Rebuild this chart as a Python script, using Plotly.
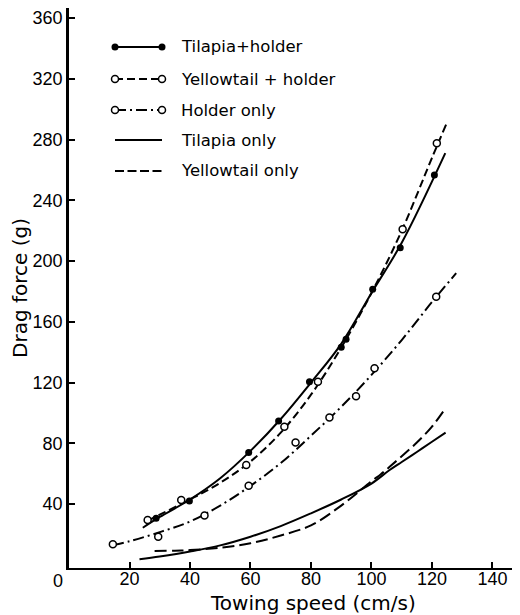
import plotly.graph_objects as go

# page has an 8px body margin: figure is drawn 8px in from the top-left
OFF = 8
W, H = 520 - OFF, 615 - OFF
ML, MR, MT, MB = 69 - OFF, 0, 8 - OFF, 47

# ---- measured data points ----
th_speed = [28.8, 39.8, 59.4, 69.3, 79.5, 90.0, 91.6, 100.4, 109.5, 120.8]
th_force = [30.6, 42.0, 74.0, 94.7, 120.5, 143.2, 148.5, 181.4, 208.8, 256.6]
yh_speed = [26.0, 37.1, 58.6, 71.2, 82.3, 110.3, 121.6]
yh_force = [29.5, 42.7, 65.7, 90.9, 120.5, 221.0, 277.5]
ho_speed = [14.5, 29.5, 44.8, 59.4, 74.9, 86.1, 94.9, 101.0, 121.4]
ho_force = [13.5, 18.5, 32.5, 52.0, 80.6, 97.0, 111.0, 129.4, 176.5]

# ---- fitted curves ----
th_fit_x = [24.4, 30, 40, 50, 60, 70, 80, 90, 100, 110, 124.4]
th_fit_y = [24.4, 31.5, 43, 57, 75, 96, 120, 145.5, 179, 212, 271]
yh_fit_x = [26, 30, 40, 50, 60, 70, 80, 90, 100, 110, 120, 124.7]
yh_fit_y = [29, 33, 43, 54, 68, 87, 112, 143, 179, 220, 268, 290]
ho_fit_x = [14.5, 20, 30, 40, 50, 60, 70, 80, 90, 100, 110, 120, 128]
ho_fit_y = [13, 15.5, 21.5, 28.5, 39, 52, 67, 85, 104, 125, 148, 173, 192]
to_fit_x = [23.3, 30, 40, 50, 60, 70, 80, 90, 100, 106, 110, 115, 120, 124.5]
to_fit_y = [3.6, 5.5, 8.8, 12.8, 18.5, 25.5, 33.9, 43, 53.5, 62.4, 67.7, 74.3, 81, 87]
yo_fit_x = [28.3, 35, 40, 50, 60, 70, 80, 90, 100, 103, 106, 110, 115, 120, 124.1]
yo_fit_y = [9.1, 9.3, 9.7, 11.3, 14.2, 19.3, 26, 39, 55, 59.5, 64.5, 71.5, 80.5, 91, 102]

x_ticks = [20, 40, 60, 80, 100, 120, 140]
y_ticks = [40, 80, 120, 160, 200, 240, 280, 320, 360]
x_range = [0, 149.1]
y_range = [-2.1, 366.6]

labels = ["Tilapia+holder", "Yellowtail + holder", "Holder only",
          "Tilapia only", "Yellowtail only"]

BLACK = "#000000"
DASH_YH = "8px,4px"
DASH_YO = "12px,5px"
DASH_HO = "11px,4px,2px,4px"
LW = 2

fig = go.Figure()

def curve(x, y, dash, name):
    fig.add_trace(go.Scatter(x=x, y=y, mode="lines", name=name, showlegend=False,
                             line=dict(color=BLACK, width=LW, dash=dash,
                                       shape="spline", smoothing=1.0)))

curve(th_fit_x, th_fit_y, "solid", labels[0])
curve(yh_fit_x, yh_fit_y, DASH_YH, labels[1])
curve(ho_fit_x, ho_fit_y, DASH_HO, labels[2])
curve(to_fit_x, to_fit_y, "solid", labels[3])
curve(yo_fit_x, yo_fit_y, DASH_YO, labels[4])

open_marker = dict(symbol="circle", size=7, color="white", line=dict(color=BLACK, width=1.5))
fill_marker = dict(symbol="circle", size=7, color=BLACK, line=dict(color=BLACK, width=0))

fig.add_trace(go.Scatter(x=ho_speed, y=ho_force, mode="markers", marker=open_marker,
                         showlegend=False, name=labels[2]))
fig.add_trace(go.Scatter(x=yh_speed, y=yh_force, mode="markers", marker=open_marker,
                         showlegend=False, name=labels[1]))
fig.add_trace(go.Scatter(x=th_speed, y=th_force, mode="markers", marker=fill_marker,
                         showlegend=False, name=labels[0]))

# ---- hand-drawn style legend (overlay axes in paper-like units) ----
pw = W - ML - MR
ph = H - MT - MB
def px_x(p):  # page pixel -> paper
    return (p - OFF - ML) / pw
def px_y(p):
    return (H - MB - (p - OFF)) / ph

leg_rows_px = [47, 79, 110, 140, 171]
leg_x0, leg_x1, leg_tx = 115, 162, 179
leg_style = [("solid", "fill"), (DASH_YH, "open"), (DASH_HO, "open"),
             ("solid", None), ("9px,3.5px", None)]
annotations = []
for lab, ypx, (dash, mk) in zip(labels, leg_rows_px, leg_style):
    yy = px_y(ypx)
    fig.add_trace(go.Scatter(x=[px_x(leg_x0), px_x(leg_x1)], y=[yy, yy],
                             xaxis="x2", yaxis="y2",
                             mode="lines+markers" if mk else "lines",
                             line=dict(color=BLACK, width=LW, dash=dash),
                             marker=(fill_marker if mk == "fill" else open_marker) if mk else None,
                             showlegend=False, hoverinfo="skip"))
    annotations.append(dict(x=px_x(leg_tx), y=yy, xref="paper", yref="paper",
                            text=lab, showarrow=False, xanchor="left", yanchor="middle",
                            font=dict(family="DejaVu Sans", size=16.5, color=BLACK)))

annotations.append(dict(x=80.5, y=px_y(603), xref="x", yref="paper",
                        text="Towing speed (cm/s)", showarrow=False,
                        xanchor="center", yanchor="middle",
                        font=dict(family="DejaVu Sans", size=20, color=BLACK)))
annotations.append(dict(x=0, y=px_y(581), xref="x", yref="paper", xshift=-11,
                        text="0", showarrow=False, xanchor="center", yanchor="middle",
                        font=dict(family="Liberation Sans", size=18, color=BLACK)))

fig.update_layout(
    template="none",
    width=W, height=H,
    margin=dict(l=ML, r=MR, t=MT, b=MB, pad=0),
    paper_bgcolor="white", plot_bgcolor="white",
    showlegend=False,
    annotations=annotations,
    xaxis=dict(range=x_range, tickvals=x_ticks, ticktext=[str(v) for v in x_ticks],
               automargin=False, ticklabelstandoff=-7,
               ticks="inside", ticklen=6, tickwidth=2, tickcolor=BLACK,
               showline=True, linecolor=BLACK, linewidth=2, showgrid=False, zeroline=False,
               tickfont=dict(family="Liberation Sans", size=18, color=BLACK)),
    yaxis=dict(range=y_range, tickvals=y_ticks, ticktext=[str(v) for v in y_ticks],
               automargin=False,
               ticks="inside", ticklen=6, tickwidth=2, tickcolor=BLACK,
               showline=True, linecolor=BLACK, linewidth=2.5, showgrid=False, zeroline=False,
               tickfont=dict(family="Liberation Sans", size=18, color=BLACK),
               title=dict(text="Drag force (g)", standoff=20,
                          font=dict(family="DejaVu Sans", size=20, color=BLACK))),
    xaxis2=dict(overlaying="x", range=[0, 1], visible=False),
    yaxis2=dict(overlaying="y", range=[0, 1], visible=False),
)

fig.write_html("out.html")
